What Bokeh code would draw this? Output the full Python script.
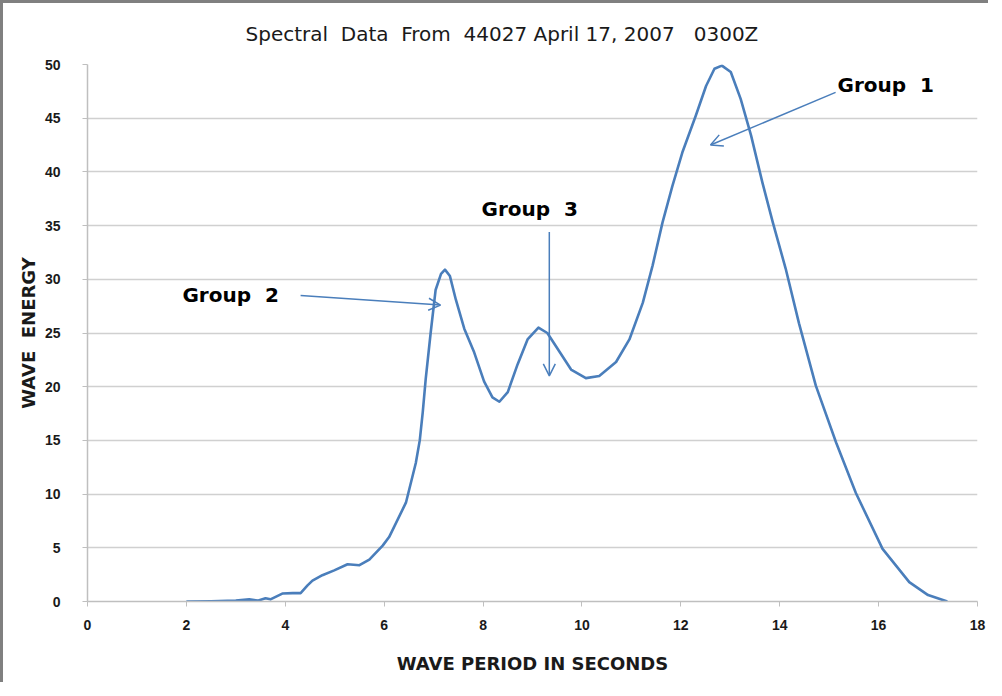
from bokeh.plotting import figure
from bokeh.models import Arrow, OpenHead, Label, Range1d, FixedTicker
from bokeh.embed import file_html
from bokeh.resources import INLINE

# ---- data ----
period = [2.0, 2.5, 3.0, 3.27, 3.44, 3.6, 3.7, 3.94, 4.15, 4.31, 4.45, 4.55, 4.75,
          4.99, 5.26, 5.5, 5.7, 5.97, 6.1, 6.44, 6.64, 6.72, 6.78, 6.84, 6.94, 7.04,
          7.15, 7.23, 7.33, 7.45, 7.62, 7.82, 8.02, 8.19, 8.33, 8.5, 8.7, 8.9, 9.12,
          9.3, 9.54, 9.78, 10.08, 10.35, 10.69, 10.96, 11.23, 11.43, 11.63, 11.83,
          12.03, 12.3, 12.51, 12.68, 12.83, 13.01, 13.21, 13.42, 13.65, 13.86, 14.12,
          14.39, 14.73, 15.14, 15.54, 16.08, 16.62, 17.0, 17.39]
energy = [0.0, 0.03, 0.08, 0.2, 0.08, 0.3, 0.2, 0.74, 0.78, 0.78, 1.5, 1.95, 2.45,
          2.9, 3.47, 3.38, 3.9, 5.2, 6.0, 9.2, 12.9, 15.0, 17.6, 20.7, 25.0, 29.0,
          30.5, 30.9, 30.3, 28.1, 25.4, 23.2, 20.5, 19.0, 18.6, 19.5, 22.1, 24.4, 25.5,
          25.0, 23.3, 21.6, 20.8, 21.0, 22.3, 24.4, 27.8, 31.3, 35.3, 38.7,
          41.8, 45.2, 48.0, 49.6, 49.9, 49.3, 46.8, 43.4, 39.0, 35.3, 31.0,
          25.9, 20.1, 14.8, 10.1, 4.9, 1.8, 0.6, 0.0]

x_ticks = [0, 2, 4, 6, 8, 10, 12, 14, 16, 18]
y_ticks = [0, 5, 10, 15, 20, 25, 30, 35, 40, 45, 50]

NB = "\u00a0"
title_text = f"Spectral{NB} Data{NB} From{NB} 44027 April 17, 2007{NB}{NB} 0300Z"
x_label = "WAVE PERIOD IN SECONDS"
y_label = f"WAVE{NB} ENERGY"

group_names = [f"Group{NB} 1", f"Group{NB} 2", f"Group{NB} 3"]
group_text_x = [15.17, 1.92, 7.97]
group_text_y = [48.1, 28.5, 36.5]
arrow_start_x = [15.13, 4.31, 9.34]
arrow_start_y = [47.4, 28.5, 34.4]
arrow_end_x = [12.6, 7.14, 9.34]
arrow_end_y = [42.5, 27.6, 21.0]

BLUE = "#4a7ebb"
AXIS = "#bfbfbf"
TEXT = "#1a1a1a"

p = figure(width=988, height=682, x_range=Range1d(0, 18), y_range=Range1d(0, 50),
           output_backend="svg", toolbar_location=None,
           min_border_left=84, min_border_right=14, min_border_top=61,
           min_border_bottom=84)
p.styles = {"border-left": "3px solid #808080", "border-top": "3px solid #808080"}
p.outline_line_color = None
p.background_fill_color = "white"
p.border_fill_color = "white"

p.title.text = title_text
p.title.align = "left"
p.title.vertical_align = "top"
p.title.offset = 158
p.title.standoff = 34
p.title.text_font = "DejaVu Sans"
p.title.text_font_style = "normal"
p.title.text_font_size = "20px"
p.title.text_color = TEXT

p.xgrid.visible = False
p.ygrid.grid_line_color = "#d0d0d0"
p.ygrid.grid_line_width = 1.5

p.xaxis.ticker = FixedTicker(ticks=x_ticks)
p.yaxis.ticker = FixedTicker(ticks=y_ticks)
for ax in (p.xaxis, p.yaxis):
    ax.axis_line_color = AXIS
    ax.axis_line_width = 1.5
    ax.major_tick_line_color = AXIS
    ax.major_tick_in = 0
    ax.major_tick_out = 5
    ax.minor_tick_line_color = None
    ax.major_label_text_font = "Liberation Sans"
    ax.major_label_text_font_style = "bold"
    ax.major_label_text_font_size = "14px"
    ax.major_label_text_color = TEXT
    ax.axis_label_text_font = "DejaVu Sans"
    ax.axis_label_text_font_style = "bold"
    ax.axis_label_text_font_size = "18px"
    ax.axis_label_text_color = TEXT

p.xaxis.axis_label = x_label
p.yaxis.axis_label = y_label
p.xaxis.major_label_standoff = 13
p.yaxis.major_label_standoff = 22
p.xaxis.axis_label_standoff = 20
p.yaxis.axis_label_standoff = 3

p.line(period, energy, line_color=BLUE, line_width=2.6, line_join="round")

for xs, ys, xe, ye in zip(arrow_start_x, arrow_start_y, arrow_end_x, arrow_end_y):
    p.add_layout(Arrow(end=OpenHead(size=12, line_color=BLUE, line_width=1.5),
                       x_start=xs, y_start=ys, x_end=xe, y_end=ye,
                       line_color=BLUE, line_width=1.5))

for name, tx, ty in zip(group_names, group_text_x, group_text_y):
    p.add_layout(Label(x=tx, y=ty, text=name, text_font="DejaVu Sans",
                       text_font_style="bold", text_font_size="20px",
                       text_color="black", text_baseline="middle", text_align="left"))

open("out.html", "w").write(file_html(p, INLINE))
